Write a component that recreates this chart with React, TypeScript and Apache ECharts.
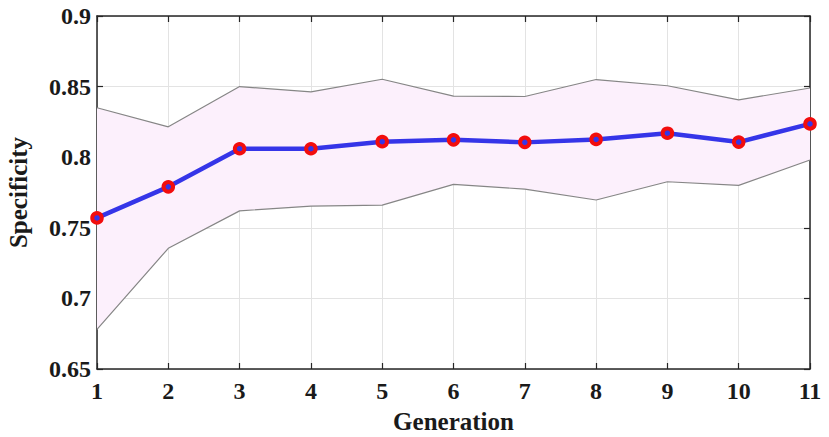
import React, { useEffect, useRef } from "react";
import * as echarts from "echarts";

const generations = ["1", "2", "3", "4", "5", "6", "7", "8", "9", "10", "11"];
const meanSpecificity = [0.757, 0.779, 0.806, 0.806, 0.811, 0.8123, 0.8105, 0.8126, 0.817, 0.8107, 0.8236];
const upperSpecificity = [0.835, 0.8215, 0.850, 0.8463, 0.8552, 0.8432, 0.843, 0.855, 0.8506, 0.8406, 0.849];
const lowerSpecificity = [0.678, 0.7355, 0.762, 0.7654, 0.7661, 0.7808, 0.7774, 0.7697, 0.7826, 0.780, 0.798];
const yTicks = [0.65, 0.7, 0.75, 0.8, 0.85, 0.9];

const FONT = "'Liberation Serif', 'Times New Roman', serif";

export default function App() {
  const ref = useRef<HTMLDivElement>(null);
  useEffect(() => {
    if (!ref.current) return;
    const chart = echarts.init(ref.current, null, { renderer: "svg" });
    const bandDiff = upperSpecificity.map((u, i) => u - lowerSpecificity[i]);
    const labelStyle = { fontFamily: FONT, fontWeight: "bold" as const, fontSize: 24, color: "#1a1a1a" };
    const axisLine = { show: true, onZero: false, lineStyle: { color: "#262626", width: 1.5 } };
    const tick = { show: true, inside: true, length: 6, alignWithLabel: true, lineStyle: { color: "#262626", width: 1.2 } };
    chart.setOption({
      animation: false,
      backgroundColor: "#ffffff",
      grid: { left: 97, right: 19, top: 16, bottom: 68, containLabel: false, outerBoundsMode: "none" },
      xAxis: [
        {
          type: "category",
          data: generations,
          boundaryGap: false,
          position: "bottom",
          name: "Generation",
          nameLocation: "middle",
          nameGap: 40,
          nameTextStyle: { ...labelStyle, fontSize: 25 },
          axisLine,
          axisTick: tick,
          axisLabel: { ...labelStyle, margin: 10 },
          splitLine: { show: true, lineStyle: { color: "#e3e3e3", width: 1 } },
        },
        {
          type: "category",
          data: generations,
          boundaryGap: false,
          position: "top",
          axisLine,
          axisTick: tick,
          axisLabel: { show: false },
          splitLine: { show: false },
        },
      ],
      yAxis: [
        {
          type: "value",
          min: yTicks[0],
          max: yTicks[yTicks.length - 1],
          interval: 0.05,
          position: "left",
          name: "Specificity",
          nameLocation: "middle",
          nameGap: 66,
          nameTextStyle: { ...labelStyle, fontSize: 25 },
          axisLine,
          axisTick: tick,
          axisLabel: { ...labelStyle, margin: 6, formatter: (v: number) => String(parseFloat(v.toFixed(2))) },
          splitLine: { show: true, lineStyle: { color: "#e3e3e3", width: 1 } },
        },
        {
          type: "value",
          min: yTicks[0],
          max: yTicks[yTicks.length - 1],
          interval: 0.05,
          position: "right",
          axisLine,
          axisTick: tick,
          axisLabel: { show: false },
          splitLine: { show: false },
        },
      ],
      series: [
        {
          type: "line",
          data: lowerSpecificity,
          stack: "band",
          symbol: "none",
          lineStyle: { color: "#868686", width: 1.2 },
          z: 2,
        },
        {
          type: "line",
          data: bandDiff,
          stack: "band",
          symbol: "none",
          lineStyle: { color: "#868686", width: 1.2 },
          areaStyle: { color: "#fcf0fc", opacity: 1 },
          z: 1,
        },
        {
          type: "line",
          data: meanSpecificity,
          symbol: "circle",
          symbolSize: 9.5,
          itemStyle: { color: "#3535e8", borderColor: "#f20d0d", borderWidth: 4 },
          lineStyle: { color: "#3535e8", width: 4.5 },
          z: 5,
        },
      ],
    });
    return () => chart.dispose();
  }, []);
  return <div ref={ref} style={{ width: 829, height: 437, position: "absolute", left: 0, top: 0 }} />;
}
